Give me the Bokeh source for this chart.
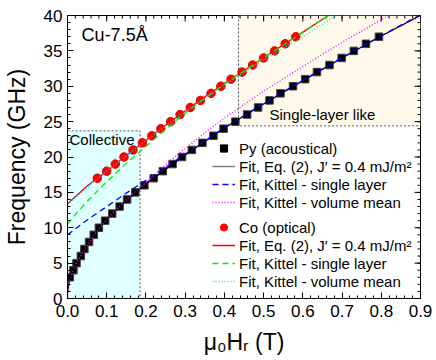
import math
from bokeh.plotting import figure
from bokeh.models import (Range1d, FixedTicker, Legend, LegendItem, Label, PrintfTickFormatter)
from bokeh.embed import file_html
from bokeh.resources import INLINE

FONT = "Liberation Sans"

py_field = [0.006, 0.015, 0.023, 0.034, 0.043, 0.055, 0.067, 0.080, 0.096, 0.114, 0.133, 0.152,
            0.173, 0.196, 0.220, 0.243, 0.268, 0.292, 0.317, 0.344, 0.372, 0.398, 0.428, 0.458,
            0.486, 0.515, 0.543, 0.575, 0.606, 0.636, 0.668, 0.699, 0.730, 0.761, 0.794]
py_freq = [3, 4, 5, 6, 7, 8, 9, 10, 11, 12, 13, 14, 15, 16, 17, 18, 19, 20, 21, 22, 23, 24, 25,
           26, 27, 28, 29, 30, 31, 32, 33, 34, 35, 36, 37]

co_field = [0.076, 0.100, 0.122, 0.144, 0.167, 0.191, 0.215, 0.238, 0.263, 0.287, 0.313, 0.339,
            0.366, 0.391, 0.417, 0.445, 0.472, 0.500, 0.528, 0.555, 0.582]
co_freq = [17, 18, 19, 20, 21, 22, 23, 24, 25, 26, 27, 28, 29, 30, 31, 32, 33, 34, 35, 36, 37]

# ---- fit curves ----
py_eq2_x = [0.0, 0.005, 0.01, 0.02, 0.03, 0.05, 0.07, 0.1, 0.15, 0.2, 0.3, 0.4, 0.5, 0.6, 0.7, 0.8, 0.9]
py_eq2_y = [0.8, 2.6, 3.6, 4.6, 5.6, 7.5, 9.2, 11.2, 13.9, 16.2, 20.3, 24.1, 27.5, 30.8, 34.0, 37.1, 40.0]

py_single_x = [0.0, 0.05, 0.1, 0.15, 0.2, 0.25, 0.3, 0.4, 0.5, 0.6, 0.7, 0.8, 0.9]
py_single_y = [9.0, 11.1, 13.0, 14.9, 16.7, 18.55, 20.4, 24.15, 27.55, 30.85, 34.05, 37.15, 40.1]

py_mean_x = [0.0, 0.003, 0.006, 0.01, 0.02, 0.03, 0.05, 0.07, 0.1, 0.15, 0.2, 0.25, 0.3, 0.35,
             0.4, 0.5, 0.6, 0.7, 0.8, 0.82]
py_mean_y = [0.0, 1.7, 2.6, 3.4, 4.7, 5.7, 7.5, 9.1, 11.2, 14.0, 16.4, 18.9, 21.2, 23.4,
             25.5, 29.3, 32.8, 36.2, 39.4, 40.0]

co_eq2_x = [0.0, 0.05, 0.1, 0.15, 0.2, 0.25, 0.3, 0.35, 0.4, 0.45, 0.5, 0.55, 0.6, 0.665]
co_eq2_y = [13.4, 15.9, 18.0, 20.25, 22.35, 24.5, 26.55, 28.5, 30.4, 32.2, 34.05, 35.85, 37.65, 40.0]

co_single_x = [0.0, 0.025, 0.05, 0.08, 0.1, 0.15, 0.2, 0.25, 0.3, 0.35, 0.4, 0.5, 0.6, 0.665]
co_single_y = [10.5, 12.2, 13.7, 15.4, 16.5, 19.1, 21.5, 23.9, 26.2, 28.3, 30.3, 34.0, 37.6, 40.0]

co_mean_x = [0.0, 0.1, 0.2, 0.3, 0.4, 0.5, 0.6, 0.685]
co_mean_y = [13.3, 18.0, 22.3, 26.4, 30.2, 33.7, 37.0, 40.0]

# ---- regions ----
collective_x = [0.0, 0.185]
collective_y = [0.0, 23.7]
single_x = [0.436, 0.9]
single_y = [24.4, 40.0]

x_ticks = [0.0, 0.1, 0.2, 0.3, 0.4, 0.5, 0.6, 0.7, 0.8, 0.9]
y_ticks = [0, 5, 10, 15, 20, 25, 30, 35, 40]
x_minor = [round(i * 0.02, 3) for i in range(46)]
y_minor = list(range(0, 41))

X0, X1 = 0.0, 0.9
Y0, Y1 = 0.0, 40.0

p = figure(width=436, height=360, output_backend="svg", toolbar_location=None,
           x_range=Range1d(X0, X1), y_range=Range1d(Y0, Y1),
           min_border_left=65, min_border_right=16, min_border_top=15, min_border_bottom=62)
p.xgrid.visible = False
p.ygrid.visible = False
p.outline_line_color = "black"
p.outline_line_width = 1
p.background_fill_color = "white"
p.border_fill_color = "white"

for ax in (p.xaxis[0], p.yaxis[0]):
    ax.axis_line_color = "black"
    ax.major_tick_in = 6
    ax.major_tick_out = 0
    ax.minor_tick_in = 3
    ax.minor_tick_out = 0
    ax.major_tick_line_color = "black"
    ax.minor_tick_line_color = "black"
    ax.major_label_text_font = FONT
    ax.major_label_text_font_size = "17px"
    ax.major_label_text_color = "black"
    ax.axis_label_text_font = FONT
    ax.axis_label_text_font_size = "23px"
    ax.axis_label_text_font_style = "normal"
    ax.axis_label_text_color = "black"

p.xaxis.ticker = FixedTicker(ticks=x_ticks, minor_ticks=x_minor)
p.yaxis.ticker = FixedTicker(ticks=y_ticks, minor_ticks=y_minor)
p.xaxis.formatter = PrintfTickFormatter(format="%.1f")
p.yaxis.formatter = PrintfTickFormatter(format="%d")
p.xaxis.axis_label = "μ₀Hᵣ (T)"
p.yaxis.axis_label = "Frequency (GHz)"
p.xaxis.major_label_standoff = 6
p.xaxis.axis_label_standoff = 9
p.yaxis.major_label_standoff = 5
p.yaxis.axis_label_standoff = 11

# shaded regions
p.quad(left=[collective_x[0]], right=[collective_x[1]], bottom=[collective_y[0]], top=[collective_y[1]],
       fill_color="#E0FFFF", line_color=None)
p.quad(left=[single_x[0]], right=[single_x[1]], bottom=[single_y[0]], top=[single_y[1]],
       fill_color="#FFF9EC", line_color=None)
p.line(x=[collective_x[0], collective_x[1], collective_x[1]],
       y=[collective_y[1], collective_y[1], collective_y[0]],
       line_color="#555555", line_width=1, line_dash="2 2")
p.line(x=[single_x[0], single_x[0], single_x[1]],
       y=[single_y[1], single_y[0], single_y[0]],
       line_color="#555555", line_width=1, line_dash="2 2")

# inward ticks on top and right frame edges (dash markers centred on the frame, clipped by it)
p.scatter(x=x_ticks, y=[Y1] * len(x_ticks), marker="dash", angle=math.pi / 2, size=12,
          line_color="black", line_width=1)
p.scatter(x=x_minor, y=[Y1] * len(x_minor), marker="dash", angle=math.pi / 2, size=6,
          line_color="black", line_width=1)
p.scatter(x=[X1] * len(y_ticks), y=y_ticks, marker="dash", size=12, line_color="black", line_width=1)
p.scatter(x=[X1] * len(y_minor), y=y_minor, marker="dash", size=6, line_color="black", line_width=1)

# markers
p.scatter(py_field, py_freq, marker="square", size=7.5, fill_color="black", line_color="#444444")
p.scatter(co_field, co_freq, marker="circle", size=8.5, fill_color="#FF0000", line_color="#E00000")

# fit lines
p.line(py_eq2_x, py_eq2_y, line_color="black", line_width=1.3)
p.line(py_single_x, py_single_y, line_color="#0000FF", line_width=1.3, line_dash="6 4")
p.line(py_mean_x, py_mean_y, line_color="#FF00FF", line_width=1.3, line_dash="1 2")
p.line(co_eq2_x, co_eq2_y, line_color="#FF0000", line_width=1.3)
p.line(co_single_x, co_single_y, line_color="#00EE00", line_width=1.3, line_dash="6 4")
p.line(co_mean_x, co_mean_y, line_color="#00E0F0", line_width=1.3, line_dash="1 2")

# legend dummies (placed outside the visible range)
OUT = [-10.0]
r_sq = p.scatter(OUT, OUT, marker="square", size=8, fill_color="black", line_color="black")
r_gl = p.line(OUT, OUT, line_color="#808080", line_width=1.5)
r_bl = p.line(OUT, OUT, line_color="#0000FF", line_width=1.3, line_dash="6 4")
r_mg = p.line(OUT, OUT, line_color="#FF00FF", line_width=1.3, line_dash="1 2")
r_ci = p.scatter(OUT, OUT, marker="circle", size=8, fill_color="#FF0000", line_color="#FF0000")
r_rl = p.line(OUT, OUT, line_color="#FF0000", line_width=1.5)
r_gr = p.line(OUT, OUT, line_color="#00EE00", line_width=1.3, line_dash="6 4")
r_cy = p.line(OUT, OUT, line_color="#00E0F0", line_width=1.3, line_dash="1 2")

fit_label = "Fit, Eq. (2), J′ = 0.4 mJ/m²"


def make_legend(items, loc):
    lg = Legend(items=items, location=loc, padding=0, margin=0, spacing=0,
                label_height=18, glyph_height=18, glyph_width=23, label_standoff=4,
                label_text_font=FONT, label_text_font_size="15px", label_text_color="black",
                border_line_color=None, background_fill_alpha=0)
    p.add_layout(lg, "center")


make_legend([LegendItem(label="Py (acoustical)", renderers=[r_sq]),
             LegendItem(label=fit_label, renderers=[r_gl]),
             LegendItem(label="Fit, Kittel - single layer", renderers=[r_bl]),
             LegendItem(label="Fit, Kittel - volume mean", renderers=[r_mg])], (145, 87))
make_legend([LegendItem(label="Co (optical)", renderers=[r_ci]),
             LegendItem(label=fit_label, renderers=[r_rl]),
             LegendItem(label="Fit, Kittel - single layer", renderers=[r_gr]),
             LegendItem(label="Fit, Kittel - volume mean", renderers=[r_cy])], (145, 8))

# annotations
p.add_layout(Label(x=0.036, y=37.2, text="Cu-7.5Å", text_font=FONT, text_font_size="18px",
                   text_baseline="middle", text_color="black"))
p.add_layout(Label(x=0.005, y=22.5, text="Collective", text_font=FONT, text_font_size="15px",
                   text_baseline="middle", text_color="black"))
p.add_layout(Label(x=0.515, y=26.0, text="Single-layer like", text_font=FONT, text_font_size="15px",
                   text_baseline="middle", text_color="black"))

open("out.html", "w").write(file_html(p, INLINE))
